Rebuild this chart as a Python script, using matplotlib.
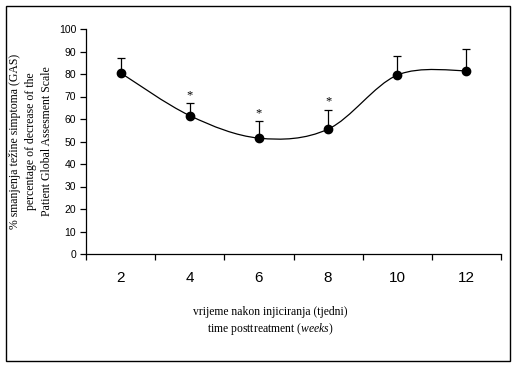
import numpy as np
import matplotlib.pyplot as plt
from matplotlib.path import Path
from matplotlib.patches import PathPatch, Rectangle

plt.rcParams['mathtext.fontset'] = 'custom'
plt.rcParams['mathtext.rm'] = 'Liberation Serif'
plt.rcParams['mathtext.it'] = 'Liberation Serif:italic'

# podaci
weeks = [2, 4, 6, 8, 10, 12]
gas = [80.5, 61.5, 51.5, 55.5, 79.5, 81.5]
err_up = [6.5, 5.5, 7.5, 8.5, 8.5, 9.5]
signif = [False, True, True, True, False, False]

fig = plt.figure(figsize=(5.17, 3.67), dpi=100)
ax = fig.add_axes([86 / 517, 113 / 367, 415 / 517, 225 / 367])

# okvir oko cijele slike
fig.patches.append(Rectangle((6 / 517, 6 / 367), 504 / 517, 355 / 367,
                             transform=fig.transFigure, fill=False,
                             edgecolor='black', linewidth=1.0))

# zaglađena linija (Bezier kao u Excelu)
x = np.array(weeks, dtype=float)
y = np.array(gas)
verts = [(x[0], y[0])]
codes = [Path.MOVETO]
n = len(x)
for i in range(n - 1):
    p0 = np.array([x[max(i - 1, 0)], y[max(i - 1, 0)]])
    p1 = np.array([x[i], y[i]])
    p2 = np.array([x[i + 1], y[i + 1]])
    p3 = np.array([x[min(i + 2, n - 1)], y[min(i + 2, n - 1)]])
    c1 = p1 + (p2 - p0) / 6
    c2 = p2 - (p3 - p1) / 6
    verts += [tuple(c1), tuple(c2), tuple(p2)]
    codes += [Path.CURVE4] * 3
ax.add_patch(PathPatch(Path(verts, codes), facecolor='none',
                       edgecolor='black', linewidth=0.9))

ax.errorbar(weeks, gas, yerr=[np.zeros(len(gas)), err_up], fmt='none',
            ecolor='black', elinewidth=0.9, capsize=3, capthick=0.9)
ax.plot(weeks, gas, 'o', color='black', markersize=6, zorder=5)

for w, g, e, s in zip(weeks, gas, err_up, signif):
    if s:
        ax.text(w, g + e + 1, '*', ha='center', va='bottom',
                fontsize=9, family='Liberation Serif')

ax.set_xlim(1, 13)
ax.set_ylim(0, 100)
ax.set_yticks(range(0, 101, 10))
ax.set_xticks(weeks)
ax.set_xticks(range(1, 14, 2), minor=True)
ax.tick_params(axis='x', which='major', length=0, pad=12, labelsize=11)
ax.tick_params(axis='x', which='minor', length=4, width=0.9)
ax.tick_params(axis='y', length=4, width=0.9, pad=3, labelsize=7.5)
for lab in ax.get_xticklabels() + ax.get_yticklabels():
    lab.set_family('Liberation Sans')

for side in ['top', 'right']:
    ax.spines[side].set_visible(False)
for side in ['left', 'bottom']:
    ax.spines[side].set_linewidth(0.9)

fig.text(31 / 517, 1 - 141 / 367,
         '% smanjenja težine simptoma (GAS)\npercentage of decrease of the\n'
         'Patient Global Assesment Scale', rotation=90,
         ha='center', va='center', multialignment='center', fontsize=8.5,
         family='Liberation Serif', linespacing=1.45)

fig.text(270 / 517, 1 - 312 / 367, 'vrijeme nakon injiciranja (tjedni)',
         ha='center', va='center', fontsize=8.4, family='Liberation Serif')
fig.text(270 / 517, 1 - 329 / 367, r'time posttreatment ($\mathit{weeks}$)',
         ha='center', va='center', fontsize=8.4, family='Liberation Serif')

fig.savefig('out.png', dpi=100)
